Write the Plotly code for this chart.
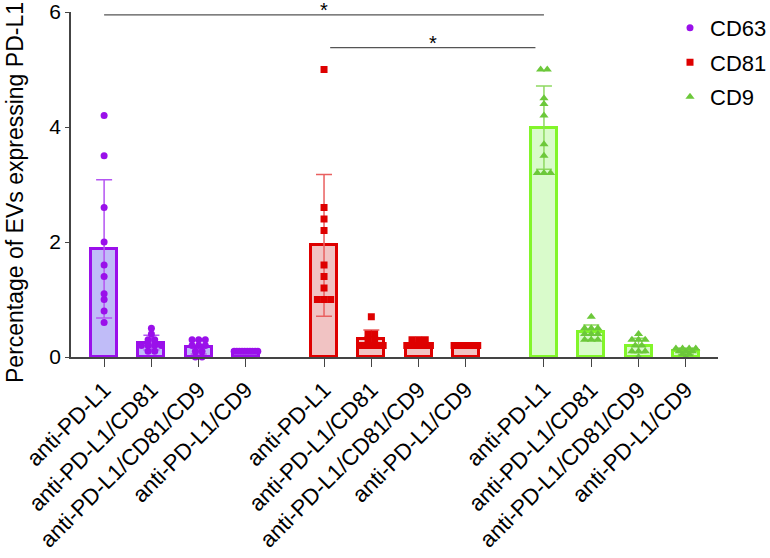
import numpy as np
import plotly.graph_objects as go

# ---------------- data ----------------
categories = ["anti-PD-L1", "anti-PD-L1/CD81", "anti-PD-L1/CD81/CD9", "anti-PD-L1/CD9"]
series_names = ["CD63", "CD81", "CD9"]

cd63_points = [
    [4.2, 3.5, 2.6, 2.0, 1.6, 1.4, 1.1, 1.0, 0.8, 0.6],
    [0.5, 0.4, 0.3, 0.3, 0.2, 0.2, 0.2, 0.2, 0.1, 0.1],
    [0.3, 0.3, 0.3, 0.2, 0.2, 0.2, 0.1, 0.1, 0.0, 0.0],
    [0.1, 0.1, 0.1, 0.1, 0.1, 0.1, 0.1, 0.1, 0.1, 0.1],
]
cd81_points = [
    [5.0, 2.6, 2.4, 2.2, 1.6, 1.4, 1.2, 1.0, 1.0, 1.0],
    [0.7, 0.4, 0.4, 0.3, 0.3, 0.2, 0.2, 0.2, 0.2, 0.2],
    [0.3, 0.3, 0.3, 0.2, 0.2, 0.2, 0.2, 0.2, 0.2, 0.2],
    [0.2, 0.2, 0.2, 0.2, 0.2, 0.2, 0.2, 0.2, 0.2, 0.2],
]
cd9_points = [
    [5.0, 5.0, 4.5, 4.4, 4.2, 3.7, 3.5, 3.2, 3.2, 3.2],
    [0.7, 0.5, 0.5, 0.5, 0.4, 0.4, 0.4, 0.3, 0.3, 0.3],
    [0.4, 0.3, 0.3, 0.3, 0.2, 0.2, 0.1, 0.1, 0.1, 0.0],
    [0.15, 0.15, 0.15, 0.15, 0.1, 0.1, 0.1, 0.05, 0.05, 0.0],
]
y_ticks = [0, 2, 4, 6]
significance = [("*", 0, 8), ("*", 4, 8)]   # (label, from bar index, to bar index)

# ---------------- styles ----------------
styles = [
    dict(line="#9A10EA", fill="#C0BCF8", err="#B455F2", marker="#9A10EA", symbol="circle", size=7),
    dict(line="#DE0000", fill="#F1C3C3", err="#E96060", marker="#DE0000", symbol="square", size=7),
    dict(line="#82F52A", fill="#D9FBCB", err="#8ED960", marker="#6CC83A", symbol="triangle-up", size=8),
]
all_points = [cd63_points, cd81_points, cd9_points]
group_step = 4.65

fig = go.Figure()
tick_vals, tick_text = [], []
positions = []
for g, (pts_list, st) in enumerate(zip(all_points, styles)):
    xs = [g * group_step + i for i in range(len(categories))]
    positions += xs
    tick_vals += xs
    tick_text += categories
    means = [float(np.mean(p)) for p in pts_list]
    sds = [float(np.std(p, ddof=1)) for p in pts_list]
    fig.add_trace(go.Bar(
        x=xs, y=means, width=0.55,
        marker=dict(color=st["fill"], line=dict(color=st["line"], width=3)),
        error_y=dict(type="data", array=sds, visible=True, color=st["err"], thickness=1.5, width=8),
        showlegend=False, hoverinfo="skip",
    ))
    px, py = [], []
    for x0, pts in zip(xs, pts_list):
        vals = np.round(np.array(pts), 3)
        for v in np.unique(vals):
            n = int((vals == v).sum())
            step = min(0.14, 0.5 / (n - 1)) if n > 1 else 0
            for k in range(n):
                px.append(x0 + (k - (n - 1) / 2) * step)
                py.append(float(v))
    fig.add_trace(go.Scatter(
        x=px, y=py, mode="markers", name=series_names[g],
        marker=dict(color=st["marker"], symbol=st["symbol"], size=st["size"]),
        cliponaxis=False, legendgroup=series_names[g],
    ))

# significance bars
sig_levels = [5.95, 5.38]
sig_insets = [(0.0, 0.0), (0.13, 0.18)]
for (lab, a, b), yl, (ia, ib) in zip(significance, sig_levels, sig_insets):
    x0, x1 = positions[a] + ia, positions[b] - ib
    fig.add_shape(type="line", x0=x0, x1=x1, y0=yl, y1=yl, xref="x", yref="y",
                  line=dict(color="#555555", width=1.2))
    fig.add_annotation(x=(x0 + x1) / 2, y=yl, text=lab, showarrow=False, xref="x", yref="y",
                       yanchor="bottom", yshift=-8, font=dict(size=20, color="black", family="Liberation Sans"))

fig.add_annotation(text="Percentage of EVs expressing PD-L1", textangle=-90,
                   xref="paper", yref="paper", x=-71 / 647, y=(357 - 193) / 345,
                   xanchor="left", yanchor="middle", showarrow=False,
                   font=dict(size=23, color="black", family="Liberation Sans"))

fig.update_layout(
    width=770, height=558,
    margin=dict(l=71, r=52, t=12, b=201, autoexpand=False),
    plot_bgcolor="white", paper_bgcolor="white",
    font=dict(family="Liberation Sans", color="black"),
    bargap=0, barmode="overlay",
    xaxis=dict(range=[-0.7, 12.98], tickvals=tick_vals, ticktext=tick_text, tickangle=-45,
               showgrid=False, zeroline=False, showline=True, linecolor="#444444", linewidth=1.5,
               ticks="outside", ticklen=8, tickcolor="#444444", tickwidth=1.2,
               ticklabelstandoff=1,
               tickfont=dict(size=22.5, color="black"), automargin=False),
    yaxis=dict(range=[0, 6], tickvals=y_ticks, showgrid=False, zeroline=False, showline=True,
               linecolor="#444444", linewidth=1.5, ticks="outside", ticklen=4, tickcolor="#444444",
               tickfont=dict(size=21, color="black"), automargin=False,
               ticklabeloverflow="allow"),
    legend=dict(x=(670 - 71) / 647, y=1.015, xanchor="left", yanchor="top", xref="paper",
                font=dict(size=22, color="black"), traceorder="grouped", tracegroupgap=3,
                bgcolor="rgba(0,0,0,0)"),
)

fig.write_html("out.html")
